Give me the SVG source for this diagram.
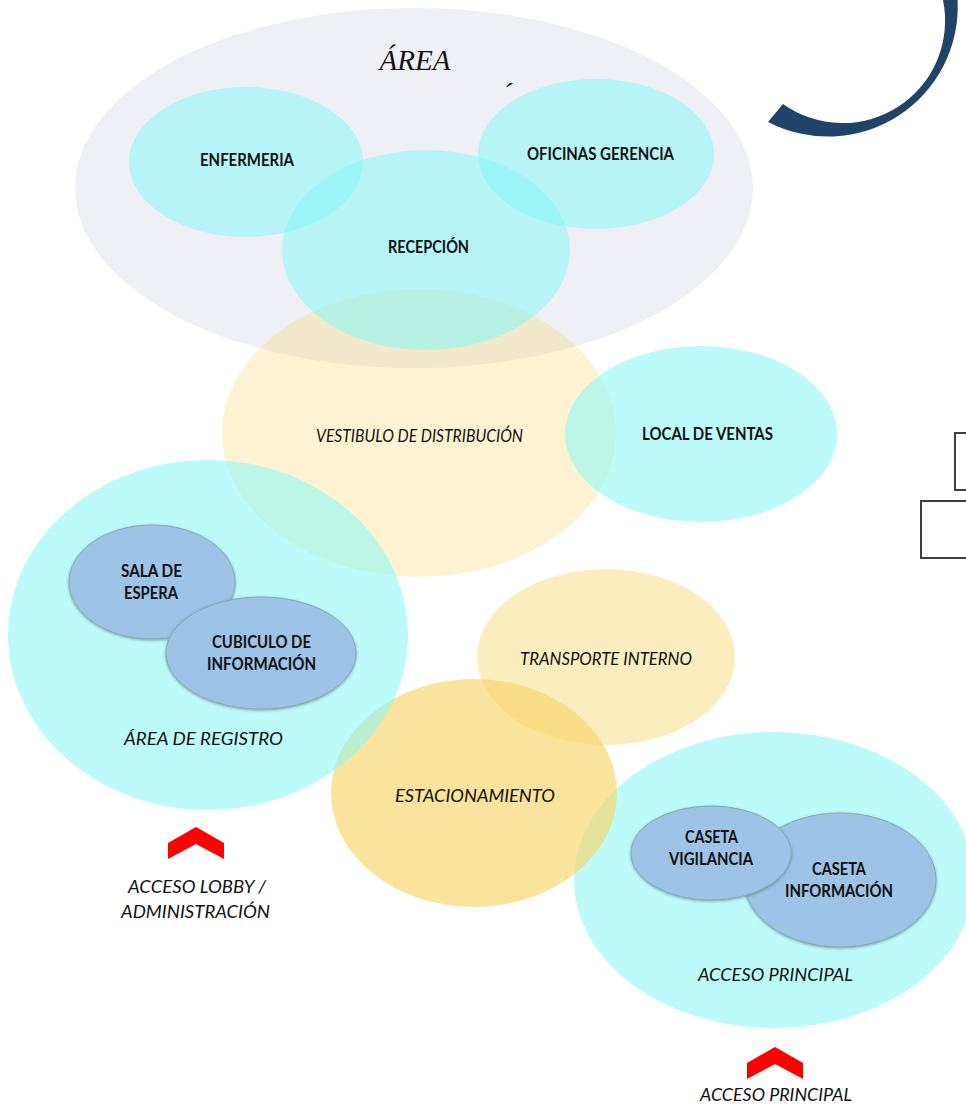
<svg xmlns="http://www.w3.org/2000/svg" width="966" height="1105" viewBox="0 0 966 1105">
<defs>
<filter id="soft" x="-20%" y="-20%" width="140%" height="140%">
<feDropShadow dx="0" dy="1" stdDeviation="1.6" flood-color="#3d5a50" flood-opacity="0.55"/>
</filter>
</defs>
<style>
.grey{fill:#eff0f6}
.cy{fill:#86f8f8;fill-opacity:0.55}
.ye{fill:#f8d66a}
.bl{fill:#9dc3e6;stroke:#8aa9b0;stroke-width:1;filter:url(#soft)}
.b{font-family:Lato,"Liberation Sans",sans-serif;font-weight:bold;font-size:16.5px;fill:#111111;text-anchor:middle}
.i{font-family:Lato,"Liberation Sans",sans-serif;font-style:italic;font-size:17.5px;fill:#111111;text-anchor:middle}
.red{fill:#ff0000}
.box{fill:#ffffff;stroke:#404040;stroke-width:2}
</style>
<rect width="966" height="1105" fill="#ffffff"/>
<g id="deco">
<path d="M768,122 A130,130 0 0 0 957.6,0 L943,0 A102.5,102.5 0 0 1 783,104 Z" fill="#1f4467"/>
<rect class="box" x="955" y="433" width="20" height="57"/>
<rect class="box" x="921" y="501" width="60" height="57"/>
</g>
<g id="area-admin">
<ellipse class="grey" cx="414" cy="188" rx="339" ry="180"/>
<text x="415" y="70" font-family="'Liberation Serif',serif" font-style="italic" font-size="29" fill="#111111" text-anchor="middle">ÁREA</text>
<text x="503" y="102" font-family="'Liberation Serif',serif" font-style="italic" font-size="28" fill="#111111">´</text>
</g>
<g id="vestibulo">
<ellipse class="ye" fill-opacity="0.3" cx="419" cy="433" rx="197" ry="144"/>
<text class="i" x="419.5" y="442" font-size="16.5" textLength="207" lengthAdjust="spacingAndGlyphs">VESTIBULO DE DISTRIBUCIÓN</text>
</g>
<g id="enfermeria">
<ellipse class="cy" cx="246" cy="162" rx="117" ry="75"/>
<text class="b" x="247" y="166" textLength="94" lengthAdjust="spacingAndGlyphs">ENFERMERIA</text>
</g>
<g id="oficinas">
<ellipse class="cy" cx="596" cy="154" rx="118" ry="75"/>
<text class="b" x="600.5" y="160" textLength="147" lengthAdjust="spacingAndGlyphs">OFICINAS GERENCIA</text>
</g>
<g id="recepcion">
<ellipse class="cy" cx="426" cy="250" rx="144" ry="100"/>
<text class="b" x="428.5" y="253" textLength="81" lengthAdjust="spacingAndGlyphs">RECEPCIÓN</text>
</g>
<g id="local">
<ellipse class="cy" cx="701" cy="434" rx="136" ry="88"/>
<text class="b" x="707.5" y="440" textLength="131" lengthAdjust="spacingAndGlyphs">LOCAL DE VENTAS</text>
</g>
<g id="acceso-principal">
<ellipse class="cy" cx="774" cy="880" rx="200" ry="148"/>
<text class="i" x="775.5" y="981" textLength="155" lengthAdjust="spacingAndGlyphs">ACCESO PRINCIPAL</text>
</g>
<g id="transporte">
<ellipse class="ye" fill-opacity="0.43" cx="606" cy="657" rx="129" ry="88"/>
<text class="i" x="606" y="665" font-size="16.5" textLength="172" lengthAdjust="spacingAndGlyphs">TRANSPORTE INTERNO</text>
</g>
<g id="estacionamiento">
<ellipse class="ye" fill-opacity="0.66" cx="474" cy="793" rx="143" ry="114"/>
<text class="i" x="475" y="802" textLength="160" lengthAdjust="spacingAndGlyphs">ESTACIONAMIENTO</text>
</g>
<g id="area-registro">
<ellipse class="cy" cx="208" cy="635" rx="200" ry="175"/>
<text class="i" x="203.5" y="745" textLength="159" lengthAdjust="spacingAndGlyphs">ÁREA DE REGISTRO</text>
</g>
<g id="sala-espera">
<ellipse class="bl" cx="152" cy="582" rx="83" ry="57"/>
<text class="b" x="151.5" y="577" textLength="61" lengthAdjust="spacingAndGlyphs">SALA DE</text>
<text class="b" x="151" y="599" textLength="54" lengthAdjust="spacingAndGlyphs">ESPERA</text>
</g>
<g id="cubiculo">
<ellipse class="bl" cx="261" cy="653" rx="95" ry="56"/>
<text class="b" x="261.5" y="648" textLength="99" lengthAdjust="spacingAndGlyphs">CUBICULO DE</text>
<text class="b" x="261.5" y="670" textLength="109" lengthAdjust="spacingAndGlyphs">INFORMACIÓN</text>
</g>
<g id="caseta-informacion">
<ellipse class="bl" cx="840" cy="880" rx="96" ry="67"/>
<text class="b" x="839" y="875" textLength="54" lengthAdjust="spacingAndGlyphs">CASETA</text>
<text class="b" x="839" y="897" textLength="108" lengthAdjust="spacingAndGlyphs">INFORMACIÓN</text>
</g>
<g id="caseta-vigilancia">
<ellipse class="bl" cx="711" cy="853" rx="80" ry="47"/>
<text class="b" x="711.5" y="843" textLength="53" lengthAdjust="spacingAndGlyphs">CASETA</text>
<text class="b" x="711" y="865" textLength="84" lengthAdjust="spacingAndGlyphs">VIGILANCIA</text>
</g>
<g id="acceso-lobby">
<polygon class="red" points="168,843 196,827 224,843 224,859 196,844 168,859"/>
<text class="i" x="197" y="893" textLength="138" lengthAdjust="spacingAndGlyphs">ACCESO LOBBY /</text>
<text class="i" x="195.5" y="918" textLength="149" lengthAdjust="spacingAndGlyphs">ADMINISTRACIÓN</text>
</g>
<g id="acceso-principal-entrada">
<polygon class="red" points="747,1063 775,1047 803,1063 803,1079 775,1064 747,1079"/>
<text class="i" x="776" y="1101" textLength="152" lengthAdjust="spacingAndGlyphs">ACCESO PRINCIPAL</text>
</g>
<g id="connectors"/>
</svg>
